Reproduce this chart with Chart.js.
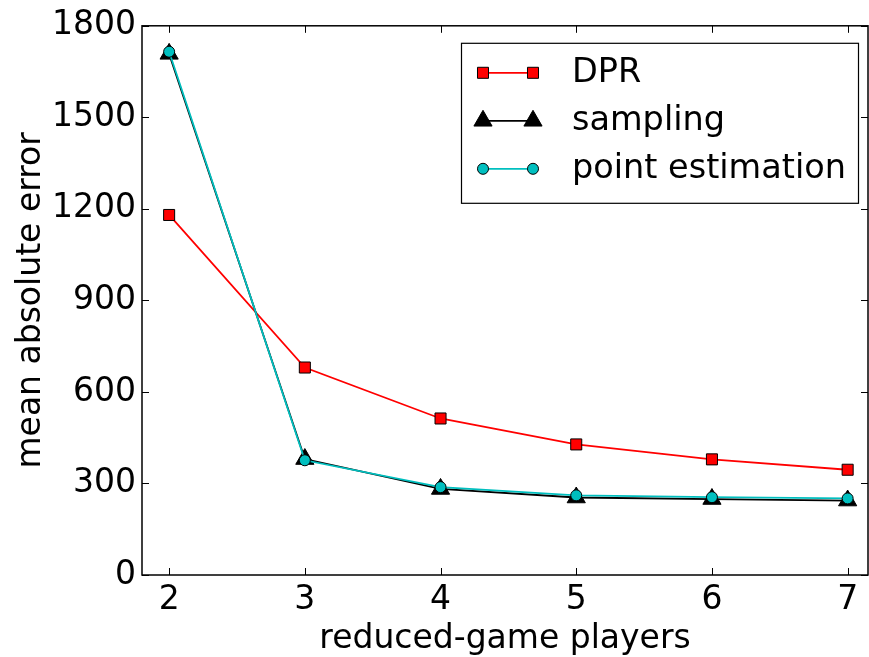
<!DOCTYPE html>
<html>
<head>
<meta charset="utf-8">
<script src="https://cdn.jsdelivr.net/npm/chart.js@4.4.1/dist/chart.umd.min.js"></script>
<style>
  html, body { margin: 0; padding: 0; background: #fff; overflow: hidden; }
  #c { display: block; }
</style>
</head>
<body>
<canvas id="c" width="869" height="657"></canvas>
<script>
// Reduced-game size vs. mean absolute error for three estimators
const players = [2, 3, 4, 5, 6, 7];
const dprError = [1180, 680, 513, 428, 379, 345];
const samplingError = [1708, 380, 282, 254, 249, 244];
const pointEstError = [1715, 376, 288, 261, 255, 251];
const yTicks = [0, 300, 600, 900, 1200, 1500, 1800];

const FONT = { family: "'DejaVu Sans', 'Liberation Sans', sans-serif", size: 33 };
const LEGEND_FONT_SIZE = 33.5;
const CYAN = '#00bfbf';

const toXY = vals => players.map((p, i) => ({ x: p, y: vals[i] }));

// Inward tick marks on all four sides, the axes frame, and the in-axes legend
const frameAndLegend = {
  id: 'frameAndLegend',
  afterDatasetsDraw(chart) {
    const { ctx, chartArea: a, scales } = chart;
    const tl = 7;
    ctx.save();
    ctx.strokeStyle = '#000';
    ctx.lineWidth = 1;
    ctx.beginPath();
    scales.x.ticks.forEach(t => {
      const px = Math.round(scales.x.getPixelForValue(t.value)) + 0.5;
      ctx.moveTo(px, a.bottom); ctx.lineTo(px, a.bottom - tl);
      ctx.moveTo(px, a.top); ctx.lineTo(px, a.top + tl);
    });
    scales.y.ticks.forEach(t => {
      const py = Math.round(scales.y.getPixelForValue(t.value)) + 0.5;
      ctx.moveTo(a.left, py); ctx.lineTo(a.left + tl, py);
      ctx.moveTo(a.right, py); ctx.lineTo(a.right - tl, py);
    });
    ctx.stroke();
    ctx.lineWidth = 1.5;
    ctx.strokeRect(a.left, a.top, a.right - a.left, a.bottom - a.top);

    // legend box
    const bx = a.right - 407, by = a.top + 17, bw = 397, bh = 160;
    ctx.fillStyle = '#fff';
    ctx.fillRect(bx, by, bw, bh);
    ctx.lineWidth = 1.2;
    ctx.strokeRect(bx + 0.5, by + 0.5, bw, bh);
    chart.data.datasets.forEach((ds, i) => {
      const cy = by + 30 + i * 48;
      const x0 = bx + 22, x1 = bx + 72;
      ctx.strokeStyle = ds.borderColor;
      ctx.lineWidth = ds.borderWidth;
      ctx.beginPath(); ctx.moveTo(x0, cy); ctx.lineTo(x1, cy); ctx.stroke();
      [x0, x1].forEach(px => {
        ctx.fillStyle = ds.pointBackgroundColor;
        ctx.strokeStyle = ds.pointBorderColor;
        ctx.lineWidth = ds.pointBorderWidth;
        Chart.helpers.drawPoint(ctx, {
          pointStyle: ds.pointStyle, radius: ds.pointRadius,
          rotation: 0, borderWidth: ds.pointBorderWidth
        }, px, cy);
      });
      ctx.fillStyle = '#000';
      ctx.font = `${LEGEND_FONT_SIZE}px ${FONT.family}`;
      ctx.textBaseline = 'middle';
      ctx.textAlign = 'left';
      ctx.fillText(ds.label, bx + 111, cy);
    });
    ctx.restore();
  }
};

new Chart(document.getElementById('c'), {
  type: 'line',
  data: {
    datasets: [
      {
        label: 'DPR', data: toXY(dprError), order: 2,
        borderColor: '#ff0000', borderWidth: 1.8,
        pointStyle: 'rect', pointRadius: 7.8, pointBackgroundColor: '#ff0000',
        pointBorderColor: '#000', pointBorderWidth: 1
      },
      {
        label: 'sampling', data: toXY(samplingError), order: 1,
        borderColor: '#000000', borderWidth: 1.8,
        pointStyle: 'triangle', pointRadius: 10.5, pointBackgroundColor: '#000000',
        pointBorderColor: '#000', pointBorderWidth: 1
      },
      {
        label: 'point estimation', data: toXY(pointEstError), order: 0,
        borderColor: CYAN, borderWidth: 1.8,
        pointStyle: 'circle', pointRadius: 5.5, pointBackgroundColor: CYAN,
        pointBorderColor: '#000', pointBorderWidth: 1
      }
    ]
  },
  options: {
    responsive: false,
    animation: false,
    layout: { autoPadding: false, padding: { top: 25, right: 1, left: 0, bottom: 0 } },
    plugins: { legend: { display: false }, tooltip: { enabled: false } },
    elements: { line: { tension: 0 } },
    scales: {
      x: {
        type: 'linear', min: 1.8, max: 7.15,
        afterBuildTicks: s => { s.ticks = players.map(v => ({ value: v })); },
        afterFit: s => { s.height = 82; },
        grid: { display: false, drawTicks: false },
        border: { display: false },
        ticks: { color: '#000', font: FONT, padding: 6, maxRotation: 0, callback: v => String(v) },
        title: { display: true, text: 'reduced-game players', color: '#000', font: FONT, padding: { top: 0, bottom: -2 } }
      },
      y: {
        type: 'linear', min: 0, max: 1800,
        afterBuildTicks: s => { s.ticks = yTicks.map(v => ({ value: v })); },
        afterFit: s => { s.width = 142; },
        grid: { display: false, drawTicks: false },
        border: { display: false },
        ticks: { color: '#000', font: FONT, padding: 6, callback: v => String(v) },
        title: { display: true, text: 'mean absolute error', color: '#000', font: FONT, padding: { top: 12, bottom: 0 } }
      }
    }
  },
  plugins: [frameAndLegend]
});
</script>
</body>
</html>
